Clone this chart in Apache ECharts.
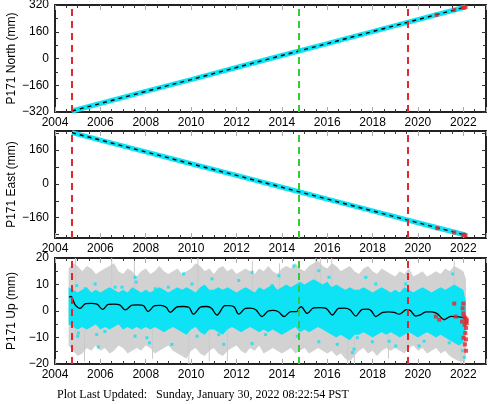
<!DOCTYPE html>
<html><head><meta charset="utf-8">
<script src="https://cdn.jsdelivr.net/npm/echarts@6/dist/echarts.min.js"></script>
<style>html,body{margin:0;padding:0;background:#fff}#c{width:488px;height:404px}</style>
</head><body><div id="c"></div>
<script>
// ---------- data ----------
const xTickLabels = [2004, 2006, 2008, 2010, 2012, 2014, 2016, 2018, 2020, 2022];
const redEvents = [2004.74, 2019.55];
const greenEvents = [2014.75];

const neYears = [2004.75, 2006, 2008, 2010, 2012, 2014, 2016, 2018, 2020, 2022.1];
const northValues = [-314, -269, -197, -126, -54, 18, 89, 161, 233, 308];
const eastValues = [242, 207, 151, 95, 40, -16, -72, -128, -184, -242];
const northRed = [[2020.82, 261], [2021.6, 290], [2021.98, 303], [2022.05, 306], [2022.1, 309]];
const eastRed = [[2020.85, -210], [2021.6, -230], [2021.98, -240], [2022.05, -242], [2022.1, -243]];

const upYears = [2004.6,2004.8,2005.0,2005.2,2005.4,2005.6,2005.8,2006.0,2006.2,2006.4,2006.6,2006.8,2007.0,2007.2,2007.4,2007.6,2007.8,2008.0,2008.2,2008.4,2008.6,2008.8,2009.0,2009.2,2009.4,2009.6,2009.8,2010.0,2010.2,2010.4,2010.6,2010.8,2011.0,2011.2,2011.4,2011.6,2011.8,2012.0,2012.2,2012.4,2012.6,2012.8,2013.0,2013.2,2013.4,2013.6,2013.8,2014.0,2014.2,2014.4,2014.6,2014.8,2015.0,2015.2,2015.4,2015.6,2015.8,2016.0,2016.2,2016.4,2016.6,2016.8,2017.0,2017.2,2017.4,2017.6,2017.8,2018.0,2018.2,2018.4,2018.6,2018.8,2019.0,2019.2,2019.4,2019.6,2019.8,2020.0,2020.2,2020.4,2020.6,2020.8,2021.0,2021.2,2021.4,2021.6,2021.8,2022.0,2022.12];
const grayHi = [16,18,17,15,17,16,14,15, 16,17,18,15,14,16,15,13, 15,16,14,15,17,15,14,15, 16,14,15,16,18,17,15,16, 14,16,17,15,16,14,15,16, 15,14,16,15,17,15,14,16, 17,16,18,16,15,17,18,19, 17,16,18,17,15,16,17,15, 14,16,17,15,14,16,15,14, 13,15,14,16,13,14,15,13, 14,15,14,16,15,17,16,15,12];
const grayLo = [-13,-15,-17,-16,-14,-15,-13,-15, -14,-16,-15,-13,-14,-16,-15,-14, -15,-13,-14,-16,-15,-14,-13,-15, -16,-17,-18,-15,-14,-16,-17,-15, -14,-16,-17,-15,-14,-13,-15,-16, -14,-15,-13,-16,-15,-14,-15,-16, -15,-14,-16,-15,-14,-16,-15,-14, -15,-16,-15,-17,-16,-18,-19,-17, -15,-14,-16,-15,-17,-15,-14,-15, -14,-15,-16,-14,-13,-15,-14,-16, -15,-14,-16,-15,-17,-18,-19,-19,-17];
const cyanHi = [9,8,7,8,9,7,8,7, 8,9,8,7,8,7,9,8, 7,8,7,8,9,8,7,8, 9,8,9,8,7,9,10,8, 8,9,8,9,8,7,8,9, 8,7,9,8,9,10,8,9, 10,9,10,11,10,11,12,11, 10,11,9,10,9,8,9,8, 8,9,8,7,8,9,8,7, 8,7,9,8,7,8,9,8, 7,8,9,8,9,10,9,8,3];
const cyanLo = [-5,-6,-7,-6,-7,-6,-5,-7, -6,-7,-6,-5,-7,-6,-7,-6, -7,-6,-7,-6,-7,-8,-7,-6, -7,-8,-9,-7,-6,-8,-9,-7, -7,-8,-9,-7,-6,-7,-8,-7, -6,-7,-8,-7,-8,-7,-8,-9, -8,-7,-6,-8,-7,-8,-7,-6, -7,-8,-9,-10,-9,-10,-11,-9, -9,-8,-9,-10,-9,-8,-9,-8, -9,-10,-9,-8,-9,-10,-9,-8, -9,-10,-9,-10,-11,-12,-13,-12,-6];
const graySpikes = [[2004.9,-8,20],[2005.3,-19,5],[2006.5,2,20],[2007.5,4,19],[2008.3,-18,-3],[2009.9,-20,-5],[2010.3,5,20],[2010.8,-19,-4],[2011.6,-19,-3],[2012.7,3,19],[2013.9,4,18],[2015.5,8,20],[2015.7,6,20],[2016.2,5,20],[2016.9,-20,-6],[2017.2,-20,-5],[2018.7,-18,-5],[2021.6,4,19],[2021.9,-20,-8],[2022.05,-20,-6]];
const cyanOutliers = [[2007.53,12.7],[2007.58,10.9],[2005.77,10.2],[2004.96,9.6],[2005.0,-9.5],[2005.03,-8.3],[2005.91,-13.6],[2005.84,-8.9],[2007.53,-9.5],[2008.05,-10.1],[2008.17,-12],[2005.33,8.4],[2006.65,9],[2008.42,8.4],[2006.2,-7.7],[2006.95,9],
  [2009.67,14],[2010.92,12.1],[2012.69,14.6],[2012.1,11.5],[2009.15,-12.6],[2010.26,-9.5],[2011.22,-8.9],[2011.44,-12.6],[2012.69,-12.3],[2013.28,-8.9],[2013.57,9.6],[2009.0,9],[2010.04,10.2],
  [2014.53,17],[2015.63,15.2],[2016.08,12.7],[2017.7,12.7],[2018.14,10.2],[2014.68,-9.5],[2015.63,-11.6],[2016.44,-12.6],[2017.11,-15.7],[2017.18,-14.4],[2017.99,-11.6],[2017.33,-10.1],[2013.87,13.3],
  [2019.02,-13.2],[2020.05,-13.2],[2020.27,-11.4],[2021.38,-12],[2022.04,-17.5],[2021.97,-15],[2019.46,10.2],[2019.98,7.2],[2021.53,14],[2018.73,-11.4]];
const upTrendYears = [2004.62,2004.72,2004.8,2004.9,2005.1,2005.35,2005.6,2005.85,2006.1,2006.35,2006.6,2006.85,2007.1,2007.4,2007.65,2007.9,2008.1,2008.4,2008.65,2008.9,2009.08,2009.4,2009.65,2009.9,2010.1,2010.45,2010.7,2010.9,2011.14,2011.5,2011.7,2011.9,2012.1,2012.4,2012.6,2012.85,2013.13,2013.4,2013.6,2013.85,2014.1,2014.4,2014.65,2014.75,2014.85,2015.12,2015.4,2015.7,2015.95,2016.23,2016.5,2016.75,2017.0,2017.26,2017.55,2017.8,2017.95,2018.14,2018.45,2018.7,2018.95,2019.17,2019.5,2019.65,2019.9,2020.1,2020.35,2020.6,2020.85,2021.16,2021.45,2021.7,2021.9,2022.1];
const upTrendValues = [5.2,5.5,4.0,2.2,1.0,2.8,2.9,2.6,0.6,2.5,2.6,2.3,0.4,2.2,2.3,2.0,-0.2,2.0,2.1,1.4,-0.5,1.6,1.7,1.4,-1.2,1.6,1.7,1.0,-1.5,2.0,2.0,1.5,-1.2,1.0,1.1,0.5,-2.1,0.0,0.2,-0.3,-2.1,-0.2,-0.2,1.0,1.6,-0.9,1.2,1.3,1.0,-1.5,1.0,1.1,0.5,-1.9,0.6,0.7,0.0,-2.1,-0.5,-0.3,-0.5,-1.2,0.5,0.3,-1.9,-1.5,-0.3,-0.3,-1.0,-3.3,-2.0,-2.2,-2.3,-2.7];
const upRed = [[2021.6,2.8],[2021.97,1],[2022.0,-0.9],[2022.04,-2.1],[2022.09,-2.7],[2022.12,-4],[2022.06,-5.2],[2022.12,-6.4],[2022.09,-8.3],[2022.01,-10.1],[2022.12,-10.7],[2022.07,-12.6],[2022.12,-15],[2020.94,-3.3],[2020.79,-2.1],[2021.67,-2.1],[2022.15,-3.3],[2022.15,-4.6],[2021.94,-4.0],[2022.0,2.8]];
const footerText = 'Plot Last Updated:   Sunday, January 30, 2022 08:22:54 PST';

// ---------- styling ----------
const CYAN = '#0de3f5', RED = '#e8262a', GREEN = '#33cc33', FRAME = '#222';
const SANS = 'Liberation Sans';
const fmtY = v => v < 0 ? '\u2212' + Math.abs(v) : String(v);
const zip = (xs, ys) => xs.map((x, i) => [x, ys[i]]);

const grids = [
  {left: 55, top: 5, width: 431, height: 107, outerBoundsMode: 'none', containLabel: false},
  {left: 55, top: 131, width: 431, height: 107, outerBoundsMode: 'none', containLabel: false},
  {left: 55, top: 258, width: 431, height: 106, outerBoundsMode: 'none', containLabel: false}
];

function xAxes(g) {
  const base = {
    type: 'value', gridIndex: g, min: 2004, max: 2023, interval: 2,
    axisLine: {show: true, onZero: false, lineStyle: {color: FRAME, width: 2}},
    axisTick: {show: true, inside: true, length: 5, lineStyle: {color: '#aaa', width: 1}},
    minorTick: {show: true, splitNumber: 4, length: 3, lineStyle: {color: '#333', width: 1}},
    splitLine: {show: false}
  };
  return [
    Object.assign({}, base, {position: 'bottom', axisLabel: {show: true, margin: 5, fontSize: 12, color: '#000', fontFamily: SANS, formatter: v => String(v), showMaxLabel: false}}),
    Object.assign({}, base, {position: 'top', axisLabel: {show: false}})
  ];
}
function yAxes(g, name, extra, labelExtra, tickExtra, minorExtra) {
  const base = Object.assign({
    type: 'value', gridIndex: g,
    axisLine: {show: true, onZero: false, lineStyle: {color: FRAME, width: 2}},
    axisTick: Object.assign({show: true, inside: true, length: 4, lineStyle: {color: '#333', width: 1}}, tickExtra || {}),
    minorTick: Object.assign({show: true, splitNumber: 2, length: 3, lineStyle: {color: '#333', width: 1}}, minorExtra || {}),
    splitLine: {show: false}
  }, extra);
  return [
    Object.assign({}, base, {
      position: 'left', name: name, nameLocation: 'middle', nameGap: 37, nameRotate: 90, nameMoveOverlap: false,
      nameTextStyle: {fontSize: 12, color: '#000', fontFamily: SANS},
      axisLabel: Object.assign({show: true, margin: 6, fontSize: 12, color: '#000', fontFamily: SANS, formatter: fmtY}, labelExtra || {})
    }),
    Object.assign({}, base, {position: 'right', axisLabel: {show: false}})
  ];
}

const eventMark = {
  silent: true, symbol: ['none', 'none'], label: {show: false}, animation: false,
  lineStyle: {type: [7, 5], width: 2},
  data: redEvents.map(x => ({xAxis: x, lineStyle: {color: RED}})).concat(greenEvents.map(x => ({xAxis: x, lineStyle: {color: GREEN}})))
};

function bandSeries(hi, lo, color, z) {
  return {
    type: 'custom', xAxisIndex: 4, yAxisIndex: 4, clip: true, silent: true, z: z,
    data: [[upYears[0], 0]],
    renderItem: (params, api) => {
      const pts = [];
      for (let i = 0; i < upYears.length; i++) pts.push(api.coord([upYears[i], hi[i]]));
      for (let i = upYears.length - 1; i >= 0; i--) pts.push(api.coord([upYears[i], lo[i]]));
      return {type: 'polygon', shape: {points: pts}, style: {fill: color}};
    }
  };
}

const series = [
  // North
  {type: 'line', xAxisIndex: 0, yAxisIndex: 0, data: zip(neYears, northValues), symbol: 'none', lineStyle: {color: CYAN, width: 5}, z: 2},
  {type: 'line', xAxisIndex: 0, yAxisIndex: 0, data: zip(neYears, northValues), symbol: 'none', lineStyle: {color: '#000', width: 1.4, type: [4, 4]}, z: 3, markLine: eventMark},
  {type: 'scatter', xAxisIndex: 0, yAxisIndex: 0, data: northRed, symbol: 'rect', symbolSize: 4, itemStyle: {color: RED}, z: 4},
  // East
  {type: 'line', xAxisIndex: 2, yAxisIndex: 2, data: zip(neYears, eastValues), symbol: 'none', lineStyle: {color: CYAN, width: 5}, z: 2},
  {type: 'line', xAxisIndex: 2, yAxisIndex: 2, data: zip(neYears, eastValues), symbol: 'none', lineStyle: {color: '#000', width: 1.4, type: [4, 4]}, z: 3, markLine: eventMark},
  {type: 'scatter', xAxisIndex: 2, yAxisIndex: 2, data: eastRed, symbol: 'rect', symbolSize: 4, itemStyle: {color: RED}, z: 4},
  // Up
  bandSeries(grayHi, grayLo, '#d2d2d2', 1),
  {
    type: 'custom', xAxisIndex: 4, yAxisIndex: 4, clip: true, silent: true, z: 1,
    data: graySpikes, encode: {x: 0, y: [1, 2]},
    renderItem: (params, api) => {
      const a = api.coord([api.value(0), api.value(1)]);
      const b = api.coord([api.value(0), api.value(2)]);
      return {type: 'line', shape: {x1: a[0], y1: a[1], x2: b[0], y2: b[1]}, style: {stroke: '#cacaca', lineWidth: 1}};
    }
  },
  bandSeries(cyanHi, cyanLo, CYAN, 2),
  {type: 'scatter', xAxisIndex: 4, yAxisIndex: 4, data: cyanOutliers, symbol: 'rect', symbolSize: 3, itemStyle: {color: CYAN}, z: 3},
  {type: 'line', xAxisIndex: 4, yAxisIndex: 4, data: zip(upTrendYears, upTrendValues), symbol: 'none', smooth: 0.35, lineStyle: {color: '#000', width: 1.3}, z: 4},
  {type: 'scatter', xAxisIndex: 4, yAxisIndex: 4, data: upRed, symbol: 'rect', symbolSize: 4, itemStyle: {color: RED}, z: 5, markLine: eventMark}
];

const option = {
  animation: false,
  backgroundColor: '#fff',
  grid: grids,
  xAxis: [].concat(xAxes(0), xAxes(1), xAxes(2)),
  yAxis: [].concat(
    yAxes(0, 'P171 North (mm)', {min: -320, max: 320, interval: 160}),
    yAxes(1, 'P171 East (mm)', {min: -256, max: 250},
      {customValues: [-160, 0, 160]},
      {customValues: [-240, -160, -80, 0, 80, 160, 240]},
      {show: false}),
    yAxes(2, 'P171 Up (mm)', {min: -20, max: 20, interval: 10})
  ),
  series: series,
  graphic: [{
    type: 'text', left: 57, top: 389,
    style: {text: footerText, fontSize: 12, fontFamily: 'Liberation Serif', fill: '#000'}
  }]
};

const chart = echarts.init(document.getElementById('c'), null, {renderer: 'canvas'});
chart.setOption(option);
</script>
</body></html>
